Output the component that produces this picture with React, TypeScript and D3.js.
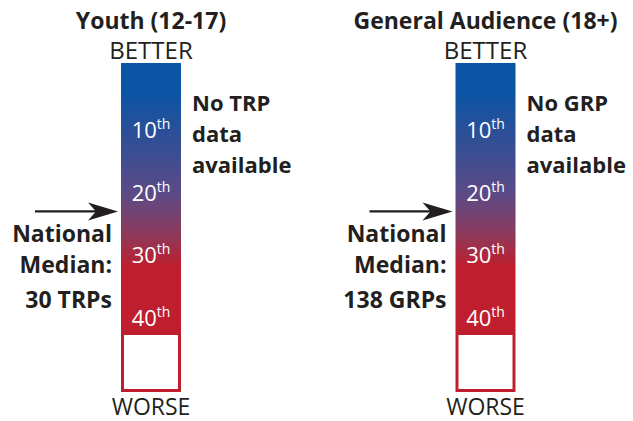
import * as d3 from 'd3';

// panel data
const panelTitles = ['Youth (12-17)', 'General Audience (18+)'];
const noDataUnits = ['TRP', 'GRP'];
const medianValues = ['30 TRPs', '138 GRPs'];
const medianPercentiles = [23, 23];
const percentileTicks = [10, 20, 30, 40];

// gradient colour stops (offset along bar, colour)
const stopOffsets = [0, 0.09, 0.22, 0.4, 0.52, 0.62, 1];
const stopColors = ['#0b55a4', '#0b55a4', '#2d4f97', '#5d4a86', '#8d3a5c', '#be1e2d', '#be1e2d'];

const W = 633;
const H = 421;
const FONT = '"Open Sans", sans-serif';

export default function App() {
  const barW = 60;
  const barTop = 63;
  const barBottom = 392;
  const boxTop = 334;

  // bar centre for each panel
  const x = d3.scalePoint<string>().domain(panelTitles).range([151, 485.5]);
  // percentile -> vertical centre of label
  const y = d3.scaleLinear().domain([10, 40]).range([130, 318]);

  return (
    <svg width={W} height={H} style={{ position: 'absolute', left: 0, top: 0, background: '#fff' }}
      fontFamily={FONT}>
      <defs>
        <linearGradient id="pctGrad" x1="0" y1="0" x2="0" y2="1">
          {stopOffsets.map((o, i) => (
            <stop key={i} offset={o} stopColor={stopColors[i]} />
          ))}
        </linearGradient>
      </defs>
      {panelTitles.map((title, pi) => {
        const cx = x(title)!;
        const left = cx - barW / 2;
        const arrowY = y(medianPercentiles[pi]);
        const arrowEnd = left - 3;
        return (
          <g key={title}>
            <text x={cx} y={29} textAnchor="middle" fontWeight="bold" fontSize={23} fill="#231f20">
              {title}
            </text>
            <text x={cx} y={59} textAnchor="middle" fontSize={24} fill="#231f20">BETTER</text>
            <rect x={left} y={barTop} width={barW} height={barBottom - barTop} fill="url(#pctGrad)" />
            <rect x={left + 3} y={boxTop + 1} width={barW - 6} height={barBottom - boxTop - 4} fill="#fff" />
            {percentileTicks.map(p => (
              <text key={p} x={cx} y={y(p) + 8} textAnchor="middle" fill="#fff" fontSize={22}>
                {p}
                <tspan fontSize={14} dy={-9}>th</tspan>
              </text>
            ))}
            <text x={cx} y={415} textAnchor="middle" fontSize={23} fill="#231f20">WORSE</text>
            {/* median arrow */}
            <line x1={arrowEnd - 83} x2={arrowEnd - 20} y1={arrowY} y2={arrowY} stroke="#231f20" strokeWidth={2.2} />
            <path d={`M${arrowEnd},${arrowY} L${arrowEnd - 30},${arrowY - 9} L${arrowEnd - 22},${arrowY} L${arrowEnd - 30},${arrowY + 9} Z`}
              fill="#231f20" />
            <g fontWeight="bold" fontSize={23} fill="#231f20" textAnchor="end">
              <text x={left - 9} y={242}>National</text>
              <text x={left - 9} y={273}>Median:</text>
              <text x={left - 9} y={308}>{medianValues[pi]}</text>
            </g>
            <g fontWeight="bold" fontSize={22} fill="#231f20">
              <text x={left + barW + 11} y={111}>No {noDataUnits[pi]}</text>
              <text x={left + barW + 11} y={142}>data</text>
              <text x={left + barW + 11} y={173}>available</text>
            </g>
          </g>
        );
      })}
    </svg>
  );
}
